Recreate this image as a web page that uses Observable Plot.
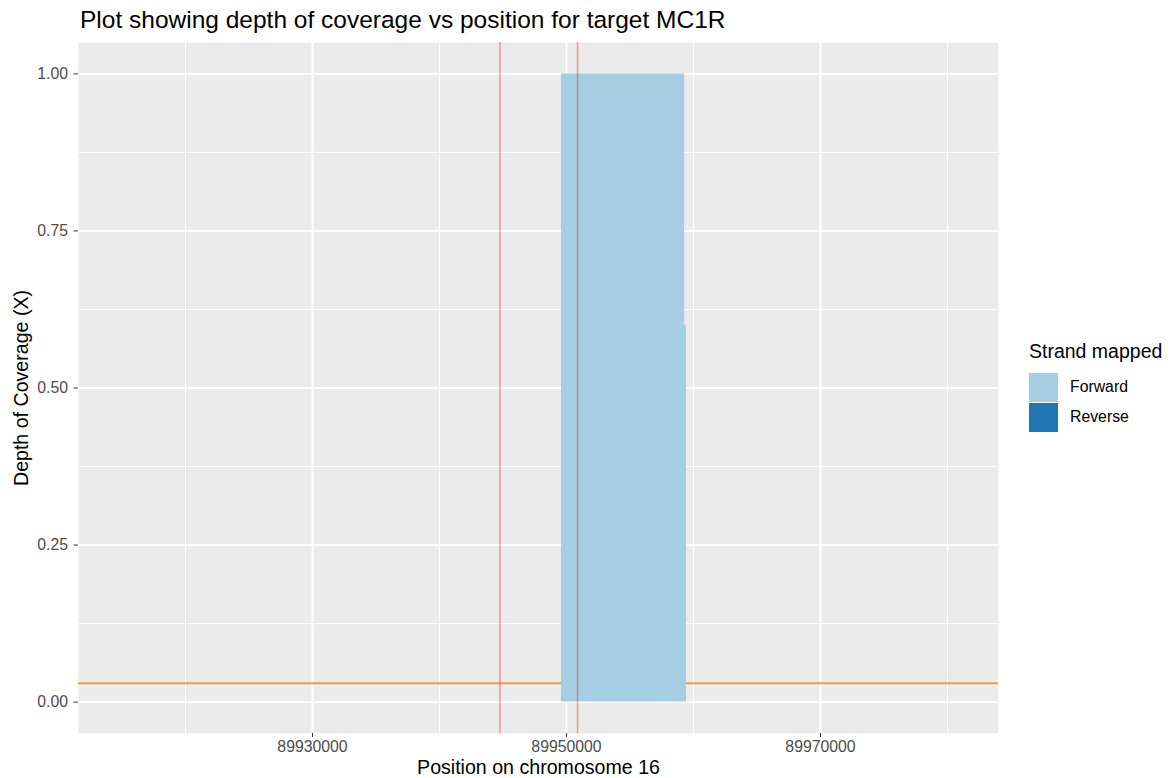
<!DOCTYPE html>
<html>
<head>
<meta charset="utf-8">
<script src="https://cdn.jsdelivr.net/npm/d3@7"></script>
<script src="https://cdn.jsdelivr.net/npm/@observablehq/plot@0.6"></script>
<style>
  html, body { margin: 0; padding: 0; background: #ffffff; }
  body { width: 1171px; height: 778px; position: relative; overflow: hidden; font-family: "Liberation Sans", Arial, sans-serif; }
  #title { position: absolute; left: 80px; top: 7px; font-size: 24.5px; line-height: 25px; color: #000; white-space: nowrap; }
  #chart { position: absolute; left: 0; top: 38px; }
  #legend { position: absolute; left: 1029px; top: 339px; color: #000; }
  #legend .lt { font-size: 19.5px; line-height: 24px; margin-bottom: 9px; white-space: nowrap; }
  #legend .row { display: flex; align-items: center; height: 30px; }
  #legend .sw { width: 29px; height: 29px; margin-right: 12px; }
  #legend .lab { font-size: 15.8px; color: #000; }
</style>
</head>
<body>
<div id="title">Plot showing depth of coverage vs position for target MC1R</div>
<div id="chart"></div>
<div id="legend"></div>
<script>
// Coverage data (forward strand)
const positions = [89949600, 89959300, 89959450];
const depth = [1, 0.6, 0];
const strandOf = ["Forward", "Forward", "Forward"];
// Target region boundaries (red vertical lines)
const targetBounds = [89944760, 89950870];
// Threshold (orange horizontal line)
const threshold = [0.03];
// Ticks
const xTicks = [89930000, 89950000, 89970000];
const xMinor = [89920000, 89940000, 89960000, 89980000];
const yTicks = [0, 0.25, 0.5, 0.75, 1];
const yMinor = [0.125, 0.375, 0.625, 0.875];
// Legend
const strands = ["Forward", "Reverse"];
const strandColors = ["#a6cee3", "#1f78b4"];

const data = positions.map((p, i) => ({pos: p, depth: depth[i], strand: strandOf[i]}));

const chart = Plot.plot({
  width: 1010,
  height: 740,
  marginTop: 4,
  marginBottom: 45,
  marginLeft: 78,
  marginRight: 12,
  style: {fontFamily: "Liberation Sans, Arial, sans-serif", background: "transparent"},
  x: {domain: [89911575, 89984016]},
  y: {domain: [-0.05, 1.05]},
  color: {domain: strands, range: strandColors},
  marks: [
    Plot.frame({fill: "#ebebeb", stroke: "none"}),
    Plot.gridX(xMinor, {stroke: "#ffffff", strokeOpacity: 1, strokeWidth: 1}),
    Plot.gridY(yMinor, {stroke: "#ffffff", strokeOpacity: 1, strokeWidth: 1}),
    Plot.gridX(xTicks, {stroke: "#ffffff", strokeOpacity: 1, strokeWidth: 2}),
    Plot.gridY(yTicks, {stroke: "#ffffff", strokeOpacity: 1, strokeWidth: 2}),
    Plot.ruleY(threshold, {stroke: "#e6a23c", strokeWidth: 2}),
    Plot.areaY(data, {x: "pos", y: "depth", fill: "strand", curve: "step-after"}),
    Plot.ruleX(targetBounds, {stroke: "red", strokeOpacity: 0.35, strokeWidth: 1.6}),
    Plot.axisX(xTicks, {
      tickSize: 4, tickPadding: 3, stroke: "#333333", color: "#4d4d4d", fontSize: 15.8,
      tickFormat: d3.format("d"),
      label: "Position on chromosome 16", labelAnchor: "center", labelArrow: "none", labelOffset: 40
    }),
    Plot.axisY(yTicks, {
      tickSize: 4.5, tickPadding: 6, stroke: "#333333", color: "#4d4d4d", fontSize: 15.8,
      tickFormat: d3.format(".2f"),
      label: "Depth of Coverage (X)", labelAnchor: "center", labelArrow: "none", labelOffset: 64
    })
  ]
});
document.getElementById("chart").appendChild(chart);

// Axis title styling (black, larger) like ggplot
chart.querySelectorAll("g[aria-label='x-axis label'] text, g[aria-label='y-axis label'] text").forEach(t => {
  t.setAttribute("fill", "#000");
  t.style.fontSize = "19.6px";
});
chart.querySelectorAll("g[aria-label='x-axis label'], g[aria-label='y-axis label']").forEach(g => {
  g.setAttribute("fill", "#000");
  g.setAttribute("font-size", "19.6");
});

// Legend
const legend = document.getElementById("legend");
const lt = document.createElement("div");
lt.className = "lt";
lt.textContent = "Strand mapped";
legend.appendChild(lt);
strands.forEach((s, i) => {
  const row = document.createElement("div");
  row.className = "row";
  const sw = document.createElement("div");
  sw.className = "sw";
  sw.style.background = strandColors[i];
  const lab = document.createElement("div");
  lab.className = "lab";
  lab.textContent = s;
  row.appendChild(sw);
  row.appendChild(lab);
  legend.appendChild(row);
});
</script>
</body>
</html>
